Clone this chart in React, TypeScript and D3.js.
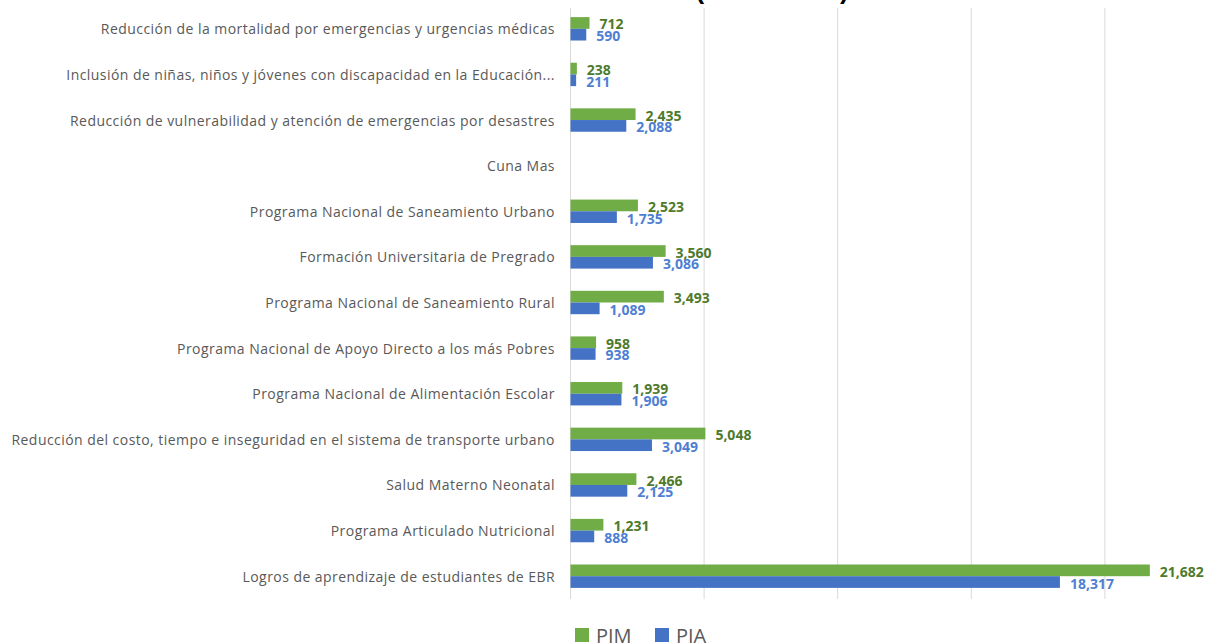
import React from "react";
import * as d3 from "d3";

const categories: string[] = [
  "Reducción de la mortalidad por emergencias y urgencias médicas",
  "Inclusión de niñas, niños y jóvenes con discapacidad en la Educación...",
  "Reducción de vulnerabilidad y atención de emergencias por desastres",
  "Cuna Mas",
  "Programa Nacional de Saneamiento Urbano",
  "Formación Universitaria de Pregrado",
  "Programa Nacional de Saneamiento Rural",
  "Programa Nacional de Apoyo Directo a los más Pobres",
  "Programa Nacional de Alimentación Escolar",
  "Reducción del costo, tiempo e inseguridad en el sistema de transporte urbano",
  "Salud Materno Neonatal",
  "Programa Articulado Nutricional",
  "Logros de aprendizaje de estudiantes de EBR",
];

const pim: (number | null)[] = [712, 238, 2435, null, 2523, 3560, 3493, 958, 1939, 5048, 2466, 1231, 21682];
const pia: (number | null)[] = [590, 211, 2088, null, 1735, 3086, 1089, 938, 1906, 3049, 2125, 888, 18317];

const gridTicks: number[] = [0, 5000, 10000, 15000, 20000];
const seriesNames = ["PIM", "PIA"];

const W = 1207;
const H = 643;
const plotLeft = 570.5;
const plotTop = 6;
const plotBottom = 599;

const GREEN = "#70AD47";
const BLUE = "#4472C4";
const GREEN_LABEL = "#4E7A2C";
const BLUE_LABEL = "#4F7FD3";
const GREY = "#595959";

export default function App() {
  const x = d3.scaleLinear().domain([0, 25000]).range([plotLeft, plotLeft + 668]);
  const y = d3.scaleBand<string>().domain(categories).range([plotTop, plotBottom]).paddingInner(0).paddingOuter(0);
  const inner = d3.scaleBand<string>().domain(seriesNames).range([0, y.bandwidth()]).paddingInner(0).paddingOuter(0.95);
  const fmt = d3.format(",");
  const series = [
    { name: "PIM", values: pim, color: GREEN, label: GREEN_LABEL },
    { name: "PIA", values: pia, color: BLUE, label: BLUE_LABEL },
  ];

  return (
    <svg width={W} height={H} style={{ position: "absolute", left: 0, top: 0, background: "#fff" }}>
      <rect x={0} y={0} width={W} height={H} fill="#fff" />
      <text x={772} y={-1.5} textAnchor="middle" fontFamily="Liberation Sans, Arial, sans-serif" fontWeight="bold" fontSize={26} fill="#000">
        (Millones S/)
      </text>
      {gridTicks.map((t) => (
        <line key={t} x1={x(t)} x2={x(t)} y1={8} y2={plotBottom} stroke="#d9d9d9" strokeWidth={1} />
      ))}
      {categories.map((c, i) => (
        <g key={c}>
          <text
            x={555}
            y={(y(c) as number) + y.bandwidth() / 2}
            textAnchor="end"
            dominantBaseline="central"
            fontFamily="Open Sans, sans-serif"
            fontSize={14}
            letterSpacing={0.45}
            fill={GREY}
          >
            {c}
          </text>
          {series.map((s) => {
            const v = s.values[i];
            if (v == null) return null;
            const by = (y(c) as number) + (inner(s.name) as number);
            const bh = inner.bandwidth();
            return (
              <g key={s.name}>
                <rect x={x(0)} y={by} width={x(v) - x(0)} height={bh} fill={s.color} />
                <text
                  x={x(v) + 10}
                  y={by + bh / 2 + 1}
                  dominantBaseline="central"
                  fontFamily="Open Sans, sans-serif"
                  fontWeight="bold"
                  fontSize={14}
                  fill={s.label}
                >
                  {fmt(v)}
                </text>
              </g>
            );
          })}
        </g>
      ))}
      {series.map((s, i) => {
        const lx = i === 0 ? 575 : 655;
        return (
          <g key={s.name}>
            <rect x={lx} y={628} width={14} height={14} fill={s.color} />
            <text x={lx + 21} y={635} dominantBaseline="central" fontFamily="Open Sans, sans-serif" fontSize={20} fill={GREY}>
              {s.name}
            </text>
          </g>
        );
      })}
    </svg>
  );
}
